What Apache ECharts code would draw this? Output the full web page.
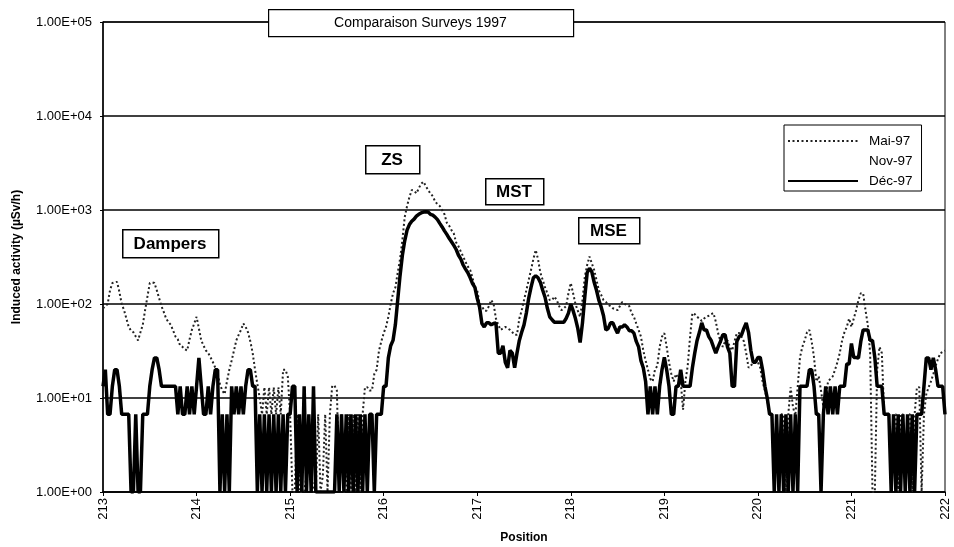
<!DOCTYPE html>
<html>
<head>
<meta charset="utf-8">
<title>Comparaison Surveys 1997</title>
<script src="https://cdn.jsdelivr.net/npm/echarts@6/dist/echarts.min.js"></script>
<style>
  html, body { margin: 0; padding: 0; background: #fff; }
  #chart { width: 954px; height: 547px; }
</style>
</head>
<body>
<div id="chart"></div>
<script>
// positions le long du tunnel, pas de 0.025
const posStart = 213;
const posStep = 0.025;

// Mai-97 (pointillés), une ligne = 0.2 de position
const maiValues = [
  90, 95, 100, 140, 167, 170, 172, 135,
  100, 86, 70, 57, 52, 50, 45, 41,
  50, 60, 86, 120, 167, 170, 167, 140,
  115, 95, 82, 70, 64, 60, 52, 45,
  42, 36, 35, 33, 32, 42, 53, 62,
  73, 55, 41, 36, 32, 30, 27, 24,
  21, 18, 14, 12, 11, 15, 20, 25,
  32, 41, 47, 53, 62, 57, 50, 40,
  30, 20, 14, 10, 6.7, 13, 6.7, 13,
  6.7, 13, 6.7, 13, 6.7, 20, 20, 17,
  6.7, 1, 1, 6.7, 1, 1, 1, 1.5,
  1.7, 1.7, 1, 1, 6.7, 1, 1.5, 6.7,
  1, 6.7, 13.5, 13.5, 12, 1, 6.7, 1,
  1, 6.7, 1, 6.7, 1, 6.7, 1, 6.7,
  13, 13, 12, 12, 18, 20, 32, 40,
  49, 57, 73, 100, 130, 150, 215, 300,
  480, 840, 1100, 1370, 1630, 1600, 1500, 1700,
  1900, 2000, 1800, 1630, 1500, 1400, 1230, 1150,
  1100, 1000, 900, 730, 680, 610, 560, 450,
  410, 360, 320, 280, 250, 230, 190, 150,
  140, 100, 95, 85, 85, 95, 110, 100,
  70, 60, 53, 55, 57, 55, 53, 50,
  47, 47, 70, 85, 110, 140, 180, 230,
  300, 375, 300, 215, 180, 150, 130, 110,
  110, 120, 110, 95, 86, 90, 95, 130,
  167, 130, 100, 85, 73, 110, 195, 260,
  320, 270, 230, 180, 140, 125, 110, 105,
  98, 95, 90, 88, 86, 95, 105, 100,
  98, 95, 80, 73, 62, 53, 45, 32,
  25, 20, 16, 15, 20, 22, 35, 45,
  49, 35, 24, 18, 15, 18, 16, 15,
  7.5, 15, 22, 45, 80, 78, 73, 70,
  66, 70, 73, 75, 78, 80, 65, 49,
  40, 35, 40, 41, 35, 32, 40, 49,
  49, 45, 40, 30, 21, 22, 24, 24,
  24, 21, 15, 12, 9.5, 7, 6.7, 1,
  6.7, 1, 6.7, 6.7, 1, 6.7, 13, 8,
  6.5, 13, 27, 35, 41, 50, 53, 40,
  27, 15, 17, 12, 8, 10, 15, 16,
  17, 20, 24, 30, 41, 50, 57, 70,
  57, 70, 86, 110, 130, 130, 86, 60,
  30, 1, 1, 20, 35, 30, 6.7, 6.7,
  6.7, 1, 6.7, 6.7, 1, 6.7, 6.7, 1,
  6.7, 6.7, 1, 6.7, 13, 13, 1, 6.7,
  11, 13, 15, 18, 22, 26, 30, 31,
  32
];

// Nov-97 : aucune trace lisible sur l'original
const novValues = [];

// Déc-97 (trait épais)
const decValues = [
  13.3, 20, 6.7, 6.7, 13.3, 20, 20, 13.3,
  6.7, 6.7, 6.7, 6.7, 1, 1, 6.7, 1,
  1, 6.7, 6.7, 6.7, 13.3, 20, 26.7, 26.7,
  20, 13.3, 13.3, 13.3, 13.3, 13.3, 13.3, 13.3,
  6.7, 13.3, 6.7, 6.7, 13.3, 6.7, 13.3, 6.7,
  13.3, 26.7, 13.3, 6.7, 6.7, 13.3, 6.7, 13.3,
  20, 20, 1, 6.7, 1, 6.7, 1, 13.3,
  6.7, 13.3, 6.7, 13.3, 6.7, 13.3, 20, 20,
  13.3, 13.3, 1, 6.7, 1, 6.7, 1, 6.7,
  1, 6.7, 1, 6.7, 1, 6.7, 1, 6.7,
  6.7, 13.3, 13.3, 1, 6.7, 1, 13.3, 1,
  6.7, 1, 13.3, 1, 1, 1, 1, 1,
  1, 1, 1, 1, 6.7, 1, 6.7, 1,
  6.7, 1, 6.7, 1, 6.7, 1, 6.7, 1,
  6.7, 1, 6.7, 6.7, 1, 6.7, 6.7, 6.7,
  13.3, 13.3, 26.7, 36, 41, 60, 110, 200,
  330, 470, 610, 700, 760, 800, 860, 900,
  930, 950, 960, 950, 900, 880, 840, 790,
  720, 660, 600, 550, 500, 460, 420, 380,
  330, 300, 260, 235, 215, 190, 165, 150,
  115, 93, 62, 57, 63, 63, 60, 62,
  63, 30, 30, 36, 24, 21, 32, 30,
  21, 30, 41, 50, 60, 80, 115, 150,
  190, 200, 190, 170, 140, 118, 90, 73,
  68, 64, 64, 64, 64, 64, 70, 80,
  100, 85, 70, 55, 39, 63, 120, 215,
  240, 220, 170, 140, 110, 93, 75, 53,
  55, 63, 63, 55, 49, 57, 57, 60,
  57, 52, 52, 49, 40, 35, 25, 21,
  15, 6.7, 13.3, 6.7, 13.3, 6.7, 13.3, 20,
  27, 20, 13.3, 6.7, 6.7, 13.3, 13.3, 20,
  13.3, 13.3, 13.3, 13.3, 21, 30, 41, 50,
  63, 53, 53, 45, 41, 35, 30, 35,
  40, 47, 47, 35, 30, 13.3, 13.3, 40,
  45, 47, 55, 63, 50, 32, 24, 24,
  27, 27, 20, 13.3, 10, 6.7, 6.7, 1,
  6.7, 1, 6.7, 1, 6.7, 1, 6.7, 1,
  6.7, 1, 13.3, 13.3, 13.3, 13.3, 20, 20,
  13.3, 6.7, 6.7, 1, 6.7, 13.3, 6.7, 13.3,
  6.7, 13.3, 6.7, 13.3, 13.3, 13.3, 23, 23,
  38, 27, 27, 26.7, 40, 53, 53, 53,
  41, 41, 27, 13.3, 13.3, 13.3, 6.7, 6.7,
  6.7, 1, 6.7, 1, 6.7, 1, 6.7, 1,
  6.7, 1, 6.7, 1, 6.7, 6.7, 6.7, 13.3,
  26.7, 26.7, 20, 26.7, 20, 13.3, 13.3, 13.3,
  6.7
];

const seriesNames = ['Mai-97', 'Nov-97', 'Déc-97'];

// étiquettes encadrées posées sur le graphique
const annotations = [
  { text: 'Dampers', x: 122, y: 229, w: 96, h: 28 },
  { text: 'ZS', x: 365, y: 145, w: 54, h: 28 },
  { text: 'MST', x: 485, y: 178, w: 58, h: 26 },
  { text: 'MSE', x: 578, y: 217, w: 61, h: 26 }
];

function toPairs(values) {
  return values.map((v, i) => [+(posStart + i * posStep).toFixed(3), v]);
}

function sciLabel(v) {
  const e = Math.round(Math.log10(v));
  return '1.00E+' + (e < 10 ? '0' : '') + e;
}

const FONT = '"Liberation Sans", Arial, sans-serif';

const chart = echarts.init(document.getElementById('chart'));

const graphics = [];
// cadre du titre
graphics.push({
  type: 'rect', left: 268, top: 9, z: 100,
  shape: { width: 305, height: 27 },
  style: { fill: '#fff', stroke: '#000', lineWidth: 1.2 }
});
graphics.push({
  type: 'text', z: 101, x: 420.5, y: 23,
  style: { text: 'Comparaison Surveys 1997', font: '14px ' + FONT, fill: '#000', align: 'center', verticalAlign: 'middle' }
});
annotations.forEach(a => {
  graphics.push({
    type: 'rect', left: a.x, top: a.y, z: 100,
    shape: { width: a.w, height: a.h },
    style: { fill: '#fff', stroke: '#000', lineWidth: 1.5 }
  });
  graphics.push({
    type: 'text', z: 101,
    x: a.x + a.w / 2, y: a.y + a.h / 2 + 1,
    style: { text: a.text, font: 'bold 17px ' + FONT, fill: '#000', align: 'center', verticalAlign: 'middle' }
  });
});

const option = {
  animation: false,
  backgroundColor: '#fff',
  textStyle: { fontFamily: FONT },
  grid: {
    left: 103, right: 9, top: 22, bottom: 55,
    outerBoundsMode: 'none',
    containLabel: false,
    show: true, borderColor: '#000', borderWidth: 1
  },
  legend: {
    data: seriesNames,
    orient: 'vertical',
    left: 784,
    top: 125,
    padding: [9, 9, 3, 3],
    itemGap: 6,
    itemWidth: 70,
    itemHeight: 14,
    backgroundColor: '#fff',
    borderColor: '#000',
    borderWidth: 1,
    itemStyle: { opacity: 0 },
    textStyle: { fontSize: 13.5, color: '#000', fontFamily: FONT, padding: [0, 0, 0, 6] },
    z: 50
  },
  xAxis: {
    type: 'value',
    min: 213,
    max: 222,
    interval: 1,
    name: 'Position',
    nameLocation: 'middle',
    nameGap: 40,
    nameTextStyle: { fontWeight: 'bold', fontSize: 12, color: '#000' },
    axisLine: { lineStyle: { color: '#000', width: 1.5 } },
    axisTick: { length: 4, lineStyle: { color: '#000' } },
    axisLabel: { rotate: 90, fontSize: 13, color: '#000', margin: 6 },
    splitLine: { show: false }
  },
  yAxis: {
    type: 'log',
    logBase: 10,
    min: 1,
    max: 100000,
    name: 'Induced activity (µSv/h)',
    nameLocation: 'middle',
    nameGap: 80,
    nameTextStyle: { fontWeight: 'bold', fontSize: 12, color: '#000' },
    axisLine: { lineStyle: { color: '#000', width: 1.5 } },
    axisTick: { length: 3, lineStyle: { color: '#000' } },
    axisLabel: { formatter: sciLabel, fontSize: 13, color: '#000', margin: 11 },
    splitLine: { show: true, lineStyle: { color: '#000', width: 1.5 } },
    minorTick: { show: false }
  },
  series: [
    {
      name: seriesNames[0],
      type: 'line',
      data: toPairs(maiValues),
      symbol: 'none',
      lineStyle: { color: '#222', width: 2, type: [2, 2.5] },
      itemStyle: { color: '#222' },
      z: 3
    },
    {
      name: seriesNames[1],
      type: 'line',
      data: toPairs(novValues),
      symbol: 'none',
      lineStyle: { color: '#fff', width: 1, opacity: 0 },
      itemStyle: { color: '#fff', opacity: 0 },
      z: 2
    },
    {
      name: seriesNames[2],
      type: 'line',
      data: toPairs(decValues),
      symbol: 'none',
      lineStyle: { color: '#000', width: 3.5 },
      itemStyle: { color: '#000' },
      z: 4
    }
  ],
  graphic: graphics
};

chart.setOption(option);
</script>
</body>
</html>
